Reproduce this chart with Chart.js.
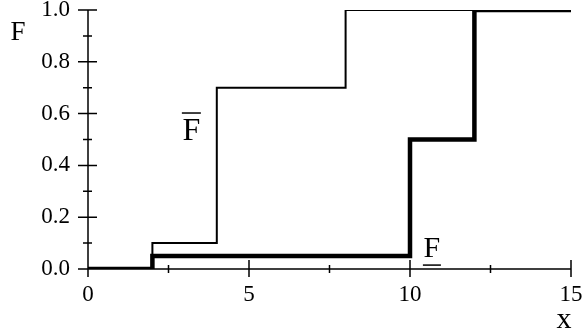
<!DOCTYPE html>
<html>
<head>
<meta charset="utf-8">
<style>
  html, body { margin: 0; padding: 0; background: #fff; }
  #wrap { width: 584px; height: 334px; }
</style>
<script src="https://cdn.jsdelivr.net/npm/chart.js@4/dist/chart.umd.min.js"></script>
</head>
<body>
<div id="wrap"><canvas id="cdf"></canvas></div>
<script>
// Upper bound of the distribution (thin line)
const upperX = [0, 2, 4, 8, 15];
const upperF = [0, 0.1, 0.7, 1.0, 1.0];

// Lower bound of the distribution (thick line)
const lowerX = [0, 2, 10, 12, 15];
const lowerF = [0, 0.05, 0.5, 1.0, 1.0];

// Axis ticks
const xTicks = [0, 2.5, 5, 7.5, 10, 12.5, 15];
const xLabels = [0, 5, 10, 15];
const yTicks = [0, 0.1, 0.2, 0.3, 0.4, 0.5, 0.6, 0.7, 0.8, 0.9, 1.0];
const yLabels = [0, 0.2, 0.4, 0.6, 0.8, 1.0];

const serif = '"Liberation Serif", "Times New Roman", serif';

function toPoints(xs, ys) {
  return xs.map((x, i) => ({ x: x, y: ys[i] }));
}

function isLabelled(list, v) {
  return list.some((t) => Math.abs(t - v) < 1e-6);
}

// Axis lines with ticks crossing them, plus the letter annotations
const axesAndNotes = {
  id: 'axesAndNotes',
  afterDatasetsDraw(chart) {
    const { ctx, chartArea: area, scales: { x, y } } = chart;
    ctx.save();
    ctx.strokeStyle = '#000';
    ctx.lineWidth = 1.5;

    ctx.beginPath();
    ctx.moveTo(area.left, area.top);
    ctx.lineTo(area.left, area.bottom);
    ctx.moveTo(area.left, area.bottom);
    ctx.lineTo(area.right, area.bottom);

    yTicks.forEach((v) => {
      const py = y.getPixelForValue(v);
      const big = isLabelled(yLabels, v);
      ctx.moveTo(area.left - (big ? 10 : 5), py);
      ctx.lineTo(area.left + (big ? 9 : 4), py);
    });
    xTicks.forEach((v) => {
      const px = x.getPixelForValue(v);
      const big = isLabelled(xLabels, v);
      ctx.moveTo(px, area.bottom - (big ? 9 : 4));
      ctx.lineTo(px, area.bottom + (big ? 8 : 4));
    });
    ctx.stroke();

    ctx.fillStyle = '#000';
    ctx.textAlign = 'center';
    ctx.textBaseline = 'alphabetic';

    // axis names
    ctx.font = '27px ' + serif;
    ctx.fillText('F', 18, 40);
    ctx.font = '30px ' + serif;
    ctx.fillText('x', 564, 328);

    // F with overline next to the upper curve
    ctx.font = '32px ' + serif;
    let px = x.getPixelForValue(3.21);
    let py = y.getPixelForValue(0.498);
    ctx.fillText('F', px, py);
    ctx.lineWidth = 1.5;
    ctx.beginPath();
    ctx.moveTo(px - 9.5, py - 27);
    ctx.lineTo(px + 9.5, py - 27);
    ctx.stroke();

    // F with underline next to the lower curve
    ctx.font = '30px ' + serif;
    px = x.getPixelForValue(10.68);
    py = y.getPixelForValue(0.046);
    ctx.fillText('F', px, py);
    ctx.beginPath();
    ctx.moveTo(px - 9, py + 8);
    ctx.lineTo(px + 9, py + 8);
    ctx.stroke();

    ctx.restore();
  }
};

new Chart(document.getElementById('cdf'), {
  type: 'line',
  data: {
    datasets: [
      {
        label: 'lower',
        data: toPoints(lowerX, lowerF),
        stepped: true,
        borderColor: '#000',
        borderWidth: 4.5,
        pointRadius: 0,
        fill: false
      },
      {
        label: 'upper',
        data: toPoints(upperX, upperF),
        stepped: true,
        borderColor: '#000',
        borderWidth: 2,
        pointRadius: 0,
        fill: false
      }
    ]
  },
  options: {
    responsive: true,
    maintainAspectRatio: false,
    animation: false,
    layout: {
      padding: { left: 23.25, right: 13, top: 10, bottom: 13.4 }
    },
    scales: {
      x: {
        type: 'linear',
        min: 0,
        max: 15,
        grid: { display: false, drawTicks: false },
        border: { display: false },
        // the layout padding already leaves room for the end labels
        afterFit: (scale) => {
          scale.paddingLeft = 0;
          scale.paddingRight = 0;
        },
        ticks: {
          stepSize: 2.5,
          autoSkip: false,
          maxRotation: 0,
          padding: 12,
          color: '#000',
          font: { family: serif, size: 23 },
          callback: (v) => (isLabelled(xLabels, v) ? String(v) : '')
        }
      },
      y: {
        type: 'linear',
        min: 0,
        max: 1,
        grid: { display: false, drawTicks: false },
        border: { display: false },
        afterFit: (scale) => {
          scale.paddingTop = 0;
          scale.paddingBottom = 0;
        },
        ticks: {
          stepSize: 0.1,
          autoSkip: false,
          padding: 18,
          color: '#000',
          font: { family: serif, size: 23 },
          callback: (v) => (isLabelled(yLabels, v) ? v.toFixed(1) : '')
        }
      }
    },
    plugins: {
      legend: { display: false },
      tooltip: { enabled: false }
    }
  },
  plugins: [axesAndNotes]
});
</script>
</body>
</html>
